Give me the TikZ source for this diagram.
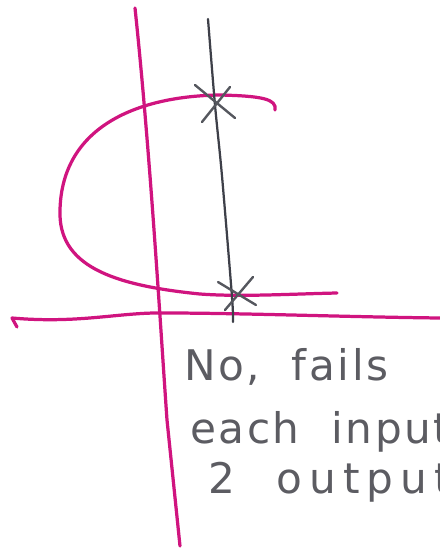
\documentclass[tikz,border=0pt]{standalone}
\usepackage{fontspec}
\newfontfamily\handfont[LetterSpace=6,WordSpace={2}]{DejaVu Sans}
\usetikzlibrary{calc}
\definecolor{penpink}{HTML}{D0147F}
\definecolor{pencil}{HTML}{3E4049}
\definecolor{pencillight}{HTML}{55575E}
\definecolor{inkgray}{HTML}{5C5C62}
\tikzset{
  % skiss
  axisline/.style={draw=penpink,line width=2.3pt,line cap=round,line join=round},
  relcurve/.style={draw=penpink,line width=2.3pt,line cap=round},
  testline/.style={draw=pencil,line width=1.6pt,line cap=round},
  crossmark/.style={draw=pencillight,line width=1.7pt,line cap=round},
  % text
  note/.style={font=\handfont\fontsize{30}{36}\selectfont,text=inkgray,
               inner sep=0pt,anchor=base west},
}

\begin{document}
\begin{tikzpicture}[x=0.025cm,y=-0.025cm]
\useasboundingbox (0,0) rectangle (440,548);
\clip (0,0) rectangle (440,548);
  % axes
  \draw[axisline] (135,8) .. controls (150,150) and (160,320) .. (167,420) -- (180,546);
  \draw[axisline] (17,327) -- (12,318) .. controls (80,324) and (120,312) .. (165,313)
    .. controls (240,313) and (350,317) .. (440,318);
  % the relation
  \draw[relcurve] (275,110) .. controls (277,99) and (262,96) .. (220,95)
    .. controls (140,96) and (62,125) .. (60,210)
    .. controls (58,265) and (110,285) .. (200,294)
    .. controls (240,297) and (290,294) .. (337,293);
  % vertical line test
  \coordinate (hit1) at (215,105);
  \coordinate (hit2) at (232,297);
  \draw[testline] plot[smooth] coordinates {(208,19) (hit1) (222,176) (hit2) (233,322)};
  \draw[crossmark] ($(hit1)+(-20,-20)$) -- ($(hit1)+(20,13)$);
  \draw[crossmark] ($(hit1)+(15,-18)$) -- ($(hit1)+(-13,17)$);
  \draw[crossmark] ($(hit2)+(-14,-15)$) -- ($(hit2)+(24,8)$);
  \draw[crossmark] ($(hit2)+(21,-20)$) -- ($(hit2)+(-7,13)$);
  % answer
  \node[note] (answer) at (184,380) {No, fails};
  \node[note] (input) at (190,443) {each input};
  \node[note] (output) at (208,493) {\addfontfeature{LetterSpace=17}2 output};
\end{tikzpicture}
\end{document}
